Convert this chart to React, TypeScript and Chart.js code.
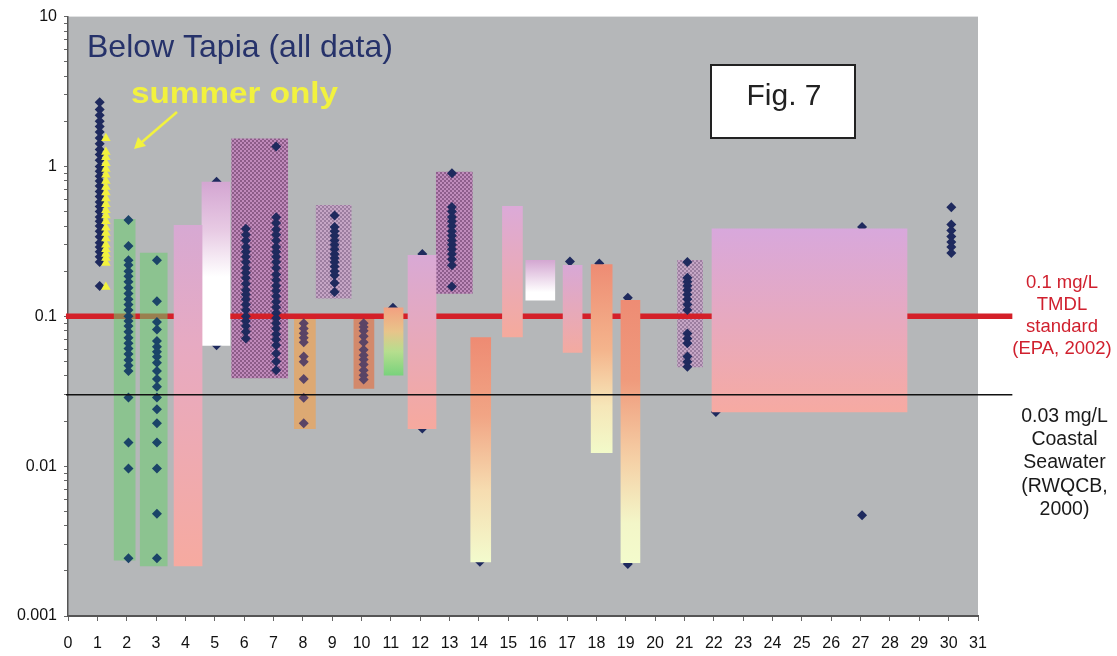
import React, { useEffect, useRef } from 'react';
import { Chart, registerables } from 'chart.js';

Chart.register(...registerables);

// ---------------- DATA ----------------
const xTickValues = [0, 1, 2, 3, 4, 5, 6, 7, 8, 9, 10, 11, 12, 13, 14, 15, 16, 17, 18, 19, 20, 21, 22, 23, 24, 25, 26, 27, 28, 29, 30, 31];
const xTickLabels = ['0', '1', '2', '3', '4', '5', '6', '7', '8', '9', '10', '11', '12', '13', '14', '15', '16', '17', '18', '19', '20', '21', '22', '23', '24', '25', '26', '27', '28', '29', '30', '31'];
const yMajorValues = [0.001, 0.01, 0.1, 1, 10];
const yMajorLabels = ['0.001', '0.01', '0.1', '1', '10'];

// reference lines
const tmdlValue = 0.1;
const seawaterValue = 0.03;
const refLineX = [-0.07, 32.17];

// floating range bars (solid / gradient)
const rangeX = [1.93, 2.92, 4.09, 5.04, 8.07, 10.08, 11.09, 12.06, 14.06, 15.14, 16.09, 17.19, 18.18, 19.16, 25.26];
const rangeLow = [0.00236, 0.00216, 0.00216, 0.064, 0.0178, 0.033, 0.0404, 0.0178, 0.0023, 0.0728, 0.128, 0.0573, 0.0123, 0.00227, 0.023];
const rangeHigh = [0.443, 0.264, 0.404, 0.786, 0.0955, 0.0955, 0.114, 0.255, 0.0721, 0.541, 0.236, 0.219, 0.221, 0.128, 0.384];

// patterned boxes
const boxX = [6.53, 9.05, 13.16, 21.19];
const boxLow = [0.0388, 0.132, 0.142, 0.046];
const boxHigh = [1.53, 0.55, 0.916, 0.236];

// diamond sample points per site
const site1X = 1.08;
const site1 = [2.68, 2.4, 2.2, 2.0, 1.85, 1.7, 1.55, 1.42, 1.3, 1.2, 1.1, 1.0, 0.93, 0.86, 0.8, 0.74, 0.68, 0.63, 0.58, 0.54, 0.5, 0.46, 0.43, 0.4, 0.37, 0.34, 0.31, 0.29, 0.27, 0.25, 0.23, 0.159];
const summerX = 1.29;
const summer = [1.54, 1.25, 1.15, 1.05, 0.96, 0.88, 0.8, 0.73, 0.67, 0.61, 0.56, 0.51, 0.47, 0.43, 0.39, 0.36, 0.33, 0.3, 0.28, 0.26, 0.245, 0.227, 0.157];
const site2X = 2.06;
const site2 = [0.44, 0.294, 0.237, 0.22, 0.2, 0.185, 0.17, 0.155, 0.142, 0.13, 0.12, 0.11, 0.1, 0.093, 0.086, 0.079, 0.072, 0.066, 0.061, 0.056, 0.051, 0.047, 0.0432, 0.0287, 0.0144, 0.00966, 0.00243];
const site3X = 3.03;
const site3 = [0.237, 0.126, 0.0917, 0.0817, 0.0684, 0.0626, 0.058, 0.0537, 0.0489, 0.0432, 0.0381, 0.0339, 0.0287, 0.024, 0.0193, 0.0144, 0.00966, 0.00481, 0.00243];
const site5X = 5.06;
const site5 = [0.79, 0.064];
const site6X = 6.06;
const site6 = [0.384, 0.35, 0.32, 0.29, 0.27, 0.25, 0.23, 0.21, 0.195, 0.18, 0.165, 0.15, 0.14, 0.13, 0.12, 0.11, 0.1, 0.093, 0.086, 0.079, 0.071];
const site7X = 7.09;
const site7 = [1.36, 0.459, 0.42, 0.38, 0.35, 0.32, 0.29, 0.27, 0.25, 0.23, 0.21, 0.19, 0.175, 0.16, 0.148, 0.136, 0.125, 0.115, 0.105, 0.097, 0.09, 0.083, 0.076, 0.07, 0.064, 0.0565, 0.05, 0.0437];
const site8X = 8.03;
const site8 = [0.09, 0.083, 0.077, 0.072, 0.067, 0.054, 0.0497, 0.0381, 0.0286, 0.0193];
const site9X = 9.08;
const site9 = [0.471, 0.394, 0.37, 0.345, 0.32, 0.3, 0.28, 0.26, 0.245, 0.23, 0.215, 0.2, 0.188, 0.167, 0.145];
const site10X = 10.07;
const site10 = [0.09, 0.085, 0.08, 0.0735, 0.0672, 0.0599, 0.055, 0.0515, 0.0477, 0.0436, 0.0404, 0.0378];
const site11X = 11.07;
const site11 = [0.114];
const site12X = 12.07;
const site12 = [0.26, 0.0178];
const site13X = 13.08;
const site13 = [0.9, 0.536, 0.5, 0.46, 0.43, 0.4, 0.37, 0.345, 0.32, 0.3, 0.28, 0.26, 0.24, 0.219, 0.158];
const site14X = 14.03;
const site14 = [0.0023];
const site17X = 17.1;
const site17 = [0.232];
const site18X = 18.1;
const site18 = [0.225];
const site19X = 19.07;
const site19 = [0.133, 0.00222];
const site21X = 21.1;
const site21 = [0.23, 0.181, 0.17, 0.16, 0.15, 0.14, 0.13, 0.12, 0.11, 0.0767, 0.071, 0.066, 0.054, 0.0497, 0.046];
const site22X = 22.07;
const site22 = [0.023];
const site27X = 27.05;
const site27 = [0.394, 0.00471];
const site30X = 30.09;
const site30 = [0.535, 0.41, 0.374, 0.341, 0.313, 0.29, 0.264];

// ---------------- STYLES ----------------
type Stops = [number, string][];
type RangeStyle = { w: number; over: boolean; color?: string; stops?: Stops };
const lilacToSalmon: Stops = [[0, '#d9a9d5'], [1, '#f6a99e']];
const salmonToCream: Stops = [[0, '#ee8b73'], [0.35, '#f1a585'], [0.68, '#f6dcb0'], [1, '#f3fbcd']];
const rangeStyle: RangeStyle[] = [
  { w: 21, over: false, color: 'rgba(105,205,112,0.55)' },
  { w: 27, over: false, color: 'rgba(105,205,112,0.55)' },
  { w: 28, over: true, stops: [[0, '#d7a9d3'], [0.35, '#e7aac2'], [1, '#f6aaa0']] },
  { w: 28, over: true, stops: [[0, '#d4a6d2'], [0.3, '#e8cbe4'], [0.58, '#ffffff'], [1, '#ffffff']] },
  { w: 21, over: false, color: 'rgba(246,160,72,0.62)' },
  { w: 20, over: false, color: 'rgba(232,104,50,0.58)' },
  { w: 19, over: true, stops: [[0, '#f3a080'], [0.35, '#e8c48a'], [0.65, '#b6de8e'], [1, '#79d27c']] },
  { w: 28, over: true, stops: lilacToSalmon },
  { w: 20, over: true, stops: salmonToCream },
  { w: 20, over: true, stops: [[0, '#dcaad8'], [1, '#f5aa9c']] },
  { w: 29, over: true, stops: [[0, '#d4a8d2'], [0.8, '#ffffff'], [1, '#ffffff']] },
  { w: 19, over: true, stops: [[0, '#d8a8d6'], [1, '#f3aaa0']] },
  { w: 21, over: true, stops: [[0, '#ee8c74'], [0.45, '#f4b48c'], [0.75, '#f6e6b8'], [1, '#f2fac9']] },
  { w: 19, over: true, stops: [[0, '#ee8c74'], [0.3, '#ef9a7c'], [0.6, '#f5cfa5'], [0.85, '#f3f6c8'], [1, '#f3fbcc']] },
  { w: 195, over: true, stops: [[0, '#d8a8dc'], [1, '#f6aaa2']] },
];
const boxStyle = [
  { w: 56, base: '#c08abb', dot: '#8c5c88' },
  { w: 35, base: '#c6a6c6', dot: '#9c7ea0' },
  { w: 36, base: '#c08cbc', dot: '#8e5e8c' },
  { w: 25, base: '#c6a6c6', dot: '#9c7ea0' },
];
const NAVY = '#1f2a5e';
const NAVY_GREEN = '#1b4468';
const NAVY_ORANGE = '#5a4466';
const YELLOW = '#f2f23e';
const FONT = '"Liberation Sans", Arial, Helvetica, sans-serif';

function pts(x: number, vals: number[]) {
  return vals.map((v) => ({ x, y: v }));
}

function makePattern(base: string, dot: string): CanvasPattern | string {
  const c = document.createElement('canvas');
  c.width = 4;
  c.height = 4;
  const g = c.getContext('2d');
  if (!g) return base;
  g.fillStyle = base;
  g.fillRect(0, 0, 4, 4);
  g.fillStyle = dot;
  g.fillRect(0, 0, 2, 2);
  g.fillRect(2, 2, 2, 2);
  return g.createPattern(c, 'repeat') || base;
}

function gradientFill(ctx: any, st: RangeStyle) {
  if (st.color) return st.color;
  const stops = st.stops as Stops;
  if (ctx.type !== 'data' || !ctx.raw) return stops[0][1];
  const ys = ctx.chart.scales.y;
  const top = ys.getPixelForValue(ctx.raw.y[1]);
  const bottom = ys.getPixelForValue(ctx.raw.y[0]);
  if (!isFinite(top) || !isFinite(bottom)) return stops[0][1];
  const g = ctx.chart.ctx.createLinearGradient(0, top, 0, bottom);
  stops.forEach(([o, c]) => g.addColorStop(o, c));
  return g;
}

const bgPlugin = {
  id: 'grayBg',
  beforeDraw(chart: any) {
    const { ctx, chartArea } = chart;
    if (!chartArea) return;
    ctx.save();
    ctx.fillStyle = '#b5b7b9';
    ctx.fillRect(chartArea.left, chartArea.top, chartArea.right - chartArea.left, chartArea.bottom - chartArea.top);
    ctx.restore();
  },
};

const textPlugin = {
  id: 'annotations',
  afterDraw(chart: any) {
    const ctx: CanvasRenderingContext2D = chart.ctx;
    ctx.save();
    // Title
    ctx.font = `32px ${FONT}`;
    ctx.fillStyle = '#26326a';
    ctx.textAlign = 'left';
    ctx.textBaseline = 'alphabetic';
    ctx.fillText('Below Tapia (all data)', 87, 57);

    // summer only
    ctx.font = `bold 29px ${FONT}`;
    ctx.fillStyle = YELLOW;
    const txt = 'summer only';
    const w = ctx.measureText(txt).width;
    ctx.save();
    ctx.translate(131, 103);
    ctx.scale(207 / w, 1);
    ctx.fillText(txt, 0, 0);
    ctx.restore();

    // arrow
    ctx.strokeStyle = YELLOW;
    ctx.fillStyle = YELLOW;
    ctx.lineWidth = 2.5;
    ctx.beginPath();
    ctx.moveTo(177, 112);
    ctx.lineTo(142, 142);
    ctx.stroke();
    ctx.beginPath();
    ctx.moveTo(134, 149);
    ctx.lineTo(138, 137);
    ctx.lineTo(146, 146);
    ctx.closePath();
    ctx.fill();

    // Fig. 7 box
    ctx.fillStyle = '#ffffff';
    ctx.fillRect(711, 65, 144, 73);
    ctx.strokeStyle = '#222222';
    ctx.lineWidth = 2;
    ctx.strokeRect(711, 65, 144, 73);
    ctx.fillStyle = '#222222';
    ctx.font = `30px ${FONT}`;
    ctx.textAlign = 'center';
    ctx.fillText('Fig. 7', 784, 105);

    // red annotation
    ctx.fillStyle = '#d0202e';
    ctx.font = `18.5px ${FONT}`;
    ['0.1 mg/L', 'TMDL', 'standard', '(EPA, 2002)'].forEach((s, i) => ctx.fillText(s, 1062, 287.5 + i * 22));
    // black annotation
    ctx.fillStyle = '#1a1a1a';
    ctx.font = `19.5px ${FONT}`;
    ['0.03 mg/L', 'Coastal', 'Seawater', '(RWQCB,', '2000)'].forEach((s, i) => ctx.fillText(s, 1064.5, 421.7 + i * 23.3));
    ctx.restore();
  },
};

export default function App() {
  const ref = useRef<HTMLCanvasElement>(null);
  useEffect(() => {
    document.body.style.margin = '0';
    const canvas = ref.current;
    if (!canvas) return;

    const yTickValues: number[] = [];
    for (let e = -3; e <= 0; e++) {
      for (let s = 1; s <= 9; s++) yTickValues.push(Number((s * Math.pow(10, e)).toPrecision(6)));
    }
    yTickValues.push(10);

    const datasets: any[] = [];

    // reference lines
    datasets.push({
      type: 'line',
      data: refLineX.map((x) => ({ x, y: seawaterValue })),
      borderColor: '#111111',
      borderWidth: 1.5,
      pointRadius: 0,
      clip: false,
      order: 0,
    });
    datasets.push({
      type: 'line',
      data: refLineX.map((x) => ({ x, y: tmdlValue })),
      borderColor: '#d42029',
      borderWidth: 5.5,
      pointRadius: 0,
      clip: false,
      order: 5,
    });

    // range bars
    rangeX.forEach((x, i) => {
      const st = rangeStyle[i];
      datasets.push({
        type: 'bar',
        data: [{ x, y: [rangeLow[i], rangeHigh[i]] }],
        barThickness: st.w,
        grouped: false,
        borderWidth: 0,
        backgroundColor: (c: any) => gradientFill(c, st),
        order: st.over ? 1 : 4,
      });
    });

    // patterned boxes
    boxX.forEach((x, i) => {
      const st = boxStyle[i];
      const pat = makePattern(st.base, st.dot);
      datasets.push({
        type: 'bar',
        data: [{ x, y: [boxLow[i], boxHigh[i]] }],
        barThickness: st.w,
        grouped: false,
        borderWidth: 0,
        backgroundColor: pat,
        order: 6,
      });
    });

    const diamond = (data: any[], color: string) => ({
      type: 'scatter',
      data,
      showLine: false,
      pointStyle: 'rectRot',
      pointRadius: 5,
      pointBackgroundColor: color,
      pointBorderColor: color,
      pointBorderWidth: 0,
      order: 3,
    });

    datasets.push(
      diamond(
        [
          ...pts(site1X, site1), ...pts(site5X, site5), ...pts(site6X, site6), ...pts(site7X, site7),
          ...pts(site9X, site9), ...pts(site11X, site11), ...pts(site12X, site12), ...pts(site13X, site13),
          ...pts(site14X, site14), ...pts(site17X, site17), ...pts(site18X, site18), ...pts(site19X, site19),
          ...pts(site21X, site21), ...pts(site22X, site22), ...pts(site27X, site27), ...pts(site30X, site30),
        ],
        NAVY
      )
    );
    datasets.push(diamond([...pts(site2X, site2), ...pts(site3X, site3)], NAVY_GREEN));
    datasets.push(diamond([...pts(site8X, site8), ...pts(site10X, site10)], NAVY_ORANGE));
    datasets.push({
      type: 'scatter',
      data: pts(summerX, summer),
      showLine: false,
      pointStyle: 'triangle',
      pointRadius: 5.5,
      pointBackgroundColor: YELLOW,
      pointBorderColor: YELLOW,
      pointBorderWidth: 0,
      order: 2,
    });

    const chart = new Chart(canvas, {
      type: 'bar',
      data: { datasets },
      options: {
        animation: false,
        responsive: false,
        devicePixelRatio: 1,
        events: [],
        layout: { padding: { left: 0, right: 139, top: 16, bottom: 0 } },
        font: { family: FONT },
        plugins: { legend: { display: false }, tooltip: { enabled: false } },
        scales: {
          x: {
            type: 'linear',
            offset: false,
            min: 0,
            max: 31,
            afterBuildTicks: (s: any) => {
              s.ticks = xTickValues.map((v) => ({ value: v }));
            },
            afterFit: (s: any) => {
              s.height = 40;
            },
            ticks: {
              autoSkip: false,
              maxRotation: 0,
              minRotation: 0,
              padding: 13,
              color: '#111111',
              font: { family: FONT, size: 16 },
              callback: (v: any) => {
                const i = xTickValues.indexOf(Number(v));
                return i >= 0 ? xTickLabels[i] : '';
              },
            },
            grid: { offset: false, drawOnChartArea: false, drawTicks: true, tickLength: 5, color: '#666666' },
            border: { display: true, color: '#555555', width: 2 },
          },
          y: {
            type: 'logarithmic',
            min: 0.001,
            max: 10,
            afterBuildTicks: (s: any) => {
              s.ticks = yTickValues.map((v) => ({ value: v }));
            },
            afterFit: (s: any) => {
              s.width = 68;
            },
            ticks: {
              autoSkip: false,
              padding: 7,
              color: '#111111',
              font: { family: FONT, size: 16 },
              callback: (v: any) => {
                const n = Number(v);
                const i = yMajorValues.findIndex((m) => Math.abs(m - n) / m < 1e-6);
                return i >= 0 ? yMajorLabels[i] : '';
              },
            },
            grid: { drawOnChartArea: false, drawTicks: true, tickLength: 4, color: '#666666' },
            border: { display: true, color: '#555555', width: 1.5 },
          },
        },
      } as any,
      plugins: [bgPlugin, textPlugin],
    } as any);

    return () => chart.destroy();
  }, []);

  return <canvas ref={ref} width={1117} height={656} style={{ display: 'block', width: '1117px', height: '656px' }} />;
}
